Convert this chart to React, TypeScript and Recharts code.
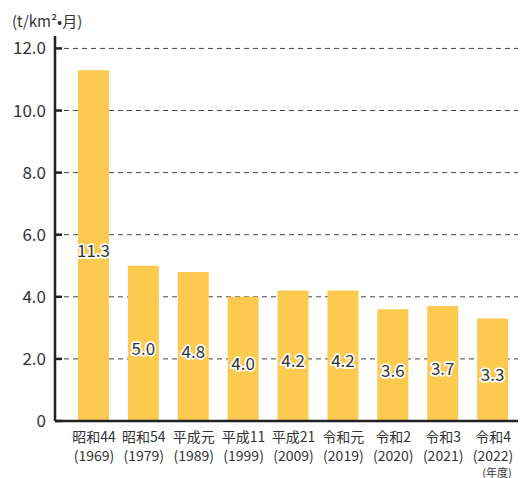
import { BarChart, Bar, XAxis, YAxis, CartesianGrid, LabelList } from "recharts";

const eras = ["昭和44", "昭和54", "平成元", "平成11", "平成21", "令和元", "令和2", "令和3", "令和4"];
const years = ["(1969)", "(1979)", "(1989)", "(1999)", "(2009)", "(2019)", "(2020)", "(2021)", "(2022)"];
const values = [11.3, 5.0, 4.8, 4.0, 4.2, 4.2, 3.6, 3.7, 3.3];
const yTicks = [0, 2, 4, 6, 8, 10, 12];

const FONT = "'Noto Sans CJK JP', 'Noto Sans', sans-serif";
const TEXT = "#333";
const AXIS_X = 55;

const data = eras.map((era, i) => ({ era, year: years[i], value: values[i] }));

const YTick = (props: any) => {
  const { y, payload } = props;
  const v = payload.value;
  return (
    <g>
      <line x1={AXIS_X} x2={AXIS_X + 7} y1={y} y2={y} stroke="#222" strokeWidth={2.5} />
      <text x={46} y={y} dy={6} textAnchor="end" fontSize={17} fill={TEXT} fontFamily={FONT}>
        {v === 0 ? "0" : v.toFixed(1)}
      </text>
    </g>
  );
};

const XTick = (props: any) => {
  const { x, y, payload, index } = props;
  const row = data[index] || data.find((d) => d.era === payload.value);
  return (
    <g>
      <text x={x} y={y + 13} textAnchor="middle" fontSize={14} fill={TEXT} fontFamily={FONT}>
        {payload.value}
      </text>
      <text x={x} y={y + 32} textAnchor="middle" fontSize={14} fill={TEXT} fontFamily={FONT}>
        {row ? row.year : ""}
      </text>
    </g>
  );
};

const ValueLabel = (props: any) => {
  const { x, y, width, height, value } = props;
  return (
    <text
      x={x + width / 2}
      y={y + height / 2 + 4}
      textAnchor="middle"
      dominantBaseline="central"
      fontSize={17}
      fill={TEXT}
      stroke="#fff"
      strokeWidth={3.5}
      strokeLinejoin="round"
      paintOrder="stroke"
      fontFamily={FONT}
    >
      {Number(value).toFixed(1)}
    </text>
  );
};

export default function App() {
  return (
    <div style={{ position: "absolute", left: 0, top: 0, width: 522, height: 478, background: "#fff" }}>
      <BarChart
        width={522}
        height={478}
        data={data}
        margin={{ top: 36, right: 4, bottom: 0, left: 0 }}
      >
        <CartesianGrid
          vertical={false}
          stroke="#444"
          strokeDasharray="5 4"
          horizontalValues={[2, 4, 6, 8, 10, 12]}
        />
        <XAxis
          dataKey="era"
          height={57}
          padding={{ left: 14, right: 0 }}
          axisLine={{ stroke: "#222", strokeWidth: 2.5 }}
          tickLine={false}
          tick={<XTick />}
          interval={0}
        />
        <YAxis
          width={AXIS_X}
          domain={[0, 12.4]}
          ticks={yTicks}
          allowDataOverflow
          axisLine={{ stroke: "#222", strokeWidth: 2.5 }}
          tickLine={false}
          tick={<YTick />}
        />
        <Bar dataKey="value" fill="#FDCA50" barSize={31} isAnimationActive={false}>
          <LabelList dataKey="value" content={<ValueLabel />} />
        </Bar>
        <text x={12} y={27} fontSize={15} fill={TEXT} fontFamily={FONT}>
          (t/km²•月)
        </text>
        <text x={497} y={476.5} textAnchor="middle" fontSize={11} fill={TEXT} fontFamily={FONT}>
          (年度)
        </text>
      </BarChart>
    </div>
  );
}
